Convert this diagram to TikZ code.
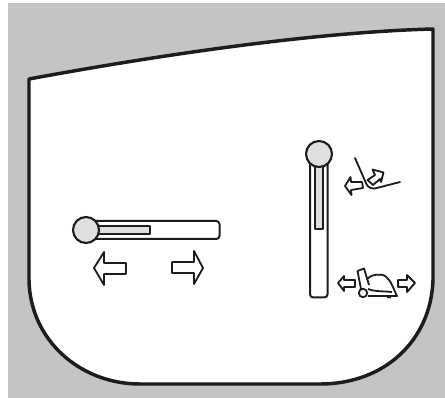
\documentclass[tikz,border=0pt]{standalone}
\definecolor{panelgray}{RGB}{197,196,194}
\definecolor{knobgray}{RGB}{222,223,222}
\definecolor{inkc}{RGB}{28,28,28}
\begin{document}
\begin{tikzpicture}[x=0.75pt,y=-0.75pt,
  ink/.style={draw=inkc,line join=round},
  outline/.style={ink,line width=2.6pt,fill=white},
  thin part/.style={ink,line width=1.35pt},
  slot/.style={ink,line width=1.5pt,fill=white,rounded corners=2.4pt},
  fillbar/.style={ink,line width=1.25pt,fill=knobgray},
  knob/.style={ink,line width=1.6pt,fill=knobgray}]
\useasboundingbox (0,0) rectangle (445,398);
\fill[panelgray] (8,3) rectangle (445,398);
\draw[outline] (29,79) .. controls (170,53) and (320,32) .. (433,29)
  -- (433,280) .. controls (431,340) and (385,384) .. (320,384)
  -- (140,384) .. controls (80,384) and (30,340) .. (29,280) -- cycle;
% horizontal lever
\draw[slot] (85,221) rectangle (219.5,239);
\draw[fillbar] (97,226) rectangle (150,234);
\draw[knob] (86,230) circle (13);
\draw[thin part] (94,268) -- (104,252) -- (104,263) -- (126,263) -- (126,274) -- (104,274) -- (104,285) -- cycle;
\draw[thin part] (203,268) -- (194,251) -- (194,262) -- (172,262) -- (172,273) -- (194,273) -- (194,284) -- cycle;
% vertical lever
\draw[slot] (310,150) rectangle (327.5,297.5);
\draw[fillbar] (315,160) rectangle (323,229);
\draw[knob] (319,154) circle (13);
% upper icon
\draw[thin part,line cap=round,rounded corners=5pt] (355,158) -- (369,190) -- (400,182);
\draw[thin part] (345,186) -- (350.5,177) -- (351,182) -- (362,182) -- (363,188) -- (351,190) -- (351.5,195) -- cycle;
\draw[thin part] (383.5,172.5) -- (372.5,169.5) -- (375,175) -- (367.5,180) -- (373,185) -- (380,179) -- (381,182) -- cycle;
% lower icon
\draw[thin part] (338,283) -- (344,276) -- (344,280) -- (355,280) -- (355,287) -- (344,287) -- (344,291) -- cycle;
\draw[thin part] (415,283) -- (407,275) -- (407,280) -- (398,280) -- (398,287) -- (407,287) -- (407,292) -- cycle;
\draw[thin part] (357.5,271) -- (364,268.5) -- (369,285);
\draw[thin part] (357.5,271) -- (361,289);
\draw[thin part] (367,279) .. controls (370,275) and (380,273) .. (385,276) .. controls (391,280) and (393,288) .. (397,296) -- (368,296);
\draw[thin part] (368,289) .. controls (376,292) and (384,291) .. (392,292);
\draw[thin part,fill=white] (363,293) circle (4.2);
\draw[thin part] (387,297) -- (391,297.5);
\end{tikzpicture}
\end{document}
